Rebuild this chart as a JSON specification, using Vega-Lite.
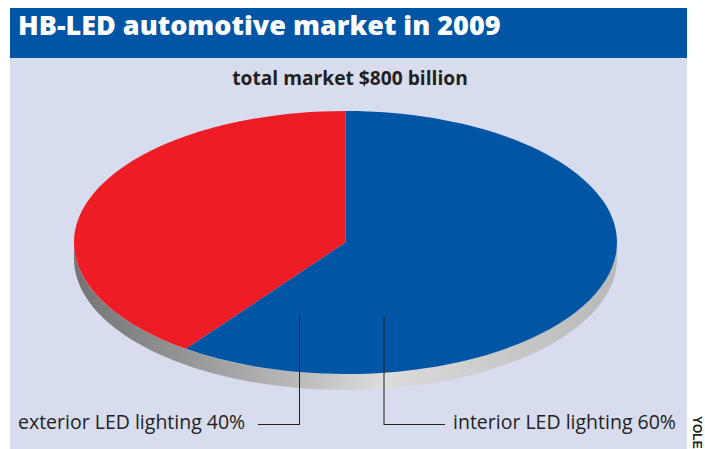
{"$schema":"https://vega.github.io/schema/vega-lite/v6.json","width":705,"height":449,"padding":0,"autosize":"none","background":"#ffffff","view":{"stroke":null},
"title":{"text":"HB-LED automotive market in 2009","anchor":"start","frame":"group","orient":"top","offset":-62,"dx":18,"baseline":"alphabetic","font":"Open Sans","fontWeight":800,"fontSize":27,"color":"#ffffff","zindex":1},
"data":{"values":[{"segment":"exterior LED lighting","share":40,"label":"exterior LED lighting 40%"},{"segment":"interior LED lighting","share":60,"label":"interior LED lighting 60%"}]},
"encoding":{"x":{"datum":0,"type":"quantitative","scale":{"domain":[0,705],"nice":false,"zero":false},"axis":null},"y":{"datum":0,"type":"quantitative","scale":{"domain":[449,0],"nice":false,"zero":false},"axis":null}},
"layer":[
{"data":{"values":[{}]},"mark":{"type":"rect","fill":"#d7dcee"},"encoding":{"x":{"datum":10,"type":"quantitative"},"x2":{"datum":687},"y":{"datum":58,"type":"quantitative"},"y2":{"datum":449}}},
{"data":{"values":[{}]},"mark":{"type":"rect","fill":"#0055a5"},"encoding":{"x":{"datum":10,"type":"quantitative"},"x2":{"datum":687},"y":{"datum":8,"type":"quantitative"},"y2":{"datum":58}}},
{"data":{"values":[{}]},"mark":{"type":"point","filled":true,"opacity":1,"shape":"M-1,0 L-1,0.0589 A1,0.4843 0 0 0 1,0.0589 L1,0 A1,0.4843 0 0 1 -1,0 Z","size":294849,"fill":{"gradient":"linear","x1":0,"y1":0,"x2":1,"y2":0,"stops":[{"offset":0,"color":"#747474"},{"offset":0.14,"color":"#8a8a8a"},{"offset":0.416,"color":"#bbbbbb"},{"offset":0.57,"color":"#dcdcdc"},{"offset":1,"color":"#b8b8b8"}]}},"encoding":{"x":{"datum":345.5,"type":"quantitative"},"y":{"datum":242.5,"type":"quantitative"}}},
{"mark":{"type":"point","filled":true,"opacity":1,"size":294849},"encoding":{"x":{"datum":345.5,"type":"quantitative"},"y":{"datum":242.5,"type":"quantitative"},"shape":{"field":"segment","type":"nominal","legend":null,"scale":{"domain":["exterior LED lighting","interior LED lighting"],"range":["M0,0 L-0.5878,0.3918 A1,0.4843 0 0 1 0,-0.4843 Z","M0,0 L0,-0.4843 A1,0.4843 0 1 1 -0.5878,0.3918 Z"]}},"color":{"field":"segment","type":"nominal","legend":null,"scale":{"domain":["exterior LED lighting","interior LED lighting"],"range":["#ee1c25","#0055a5"]}}}},
{"data":{"values":[{}]},"mark":{"type":"rule","color":"#231f20","strokeWidth":1},"encoding":{"x":{"datum":299.5,"type":"quantitative"},"y":{"datum":316,"type":"quantitative"},"y2":{"datum":425}}},
{"data":{"values":[{}]},"mark":{"type":"rule","color":"#231f20","strokeWidth":1},"encoding":{"x":{"datum":258,"type":"quantitative"},"x2":{"datum":300},"y":{"datum":424.5,"type":"quantitative"}}},
{"data":{"values":[{}]},"mark":{"type":"rule","color":"#231f20","strokeWidth":1},"encoding":{"x":{"datum":384,"type":"quantitative"},"y":{"datum":316,"type":"quantitative"},"y2":{"datum":425}}},
{"data":{"values":[{}]},"mark":{"type":"rule","color":"#231f20","strokeWidth":1},"encoding":{"x":{"datum":384,"type":"quantitative"},"x2":{"datum":445},"y":{"datum":424.5,"type":"quantitative"}}},
{"transform":[{"filter":"datum.share==40"}],"mark":{"type":"text","align":"left","baseline":"alphabetic","font":"Open Sans","fontSize":19.5,"color":"#231f20"},"encoding":{"x":{"datum":18,"type":"quantitative"},"y":{"datum":429,"type":"quantitative"},"text":{"field":"label"}}},
{"transform":[{"filter":"datum.share==60"}],"mark":{"type":"text","align":"left","baseline":"alphabetic","font":"Open Sans","fontSize":19.5,"color":"#231f20"},"encoding":{"x":{"datum":453,"type":"quantitative"},"y":{"datum":429,"type":"quantitative"},"text":{"field":"label"}}},
{"data":{"values":[{"t":"total market $800 billion"}]},"mark":{"type":"text","align":"center","baseline":"alphabetic","font":"Open Sans","fontWeight":700,"fontSize":19.2,"color":"#231f20"},"encoding":{"x":{"datum":350,"type":"quantitative"},"y":{"datum":84.5,"type":"quantitative"},"text":{"field":"t"}}},
{"data":{"values":[{"t":"YOLE"}]},"mark":{"type":"text","align":"left","baseline":"middle","angle":90,"font":"Liberation Sans","fontWeight":700,"fontSize":12,"color":"#231f20"},"encoding":{"x":{"datum":697,"type":"quantitative"},"y":{"datum":416,"type":"quantitative"},"text":{"field":"t"}}}
]}
